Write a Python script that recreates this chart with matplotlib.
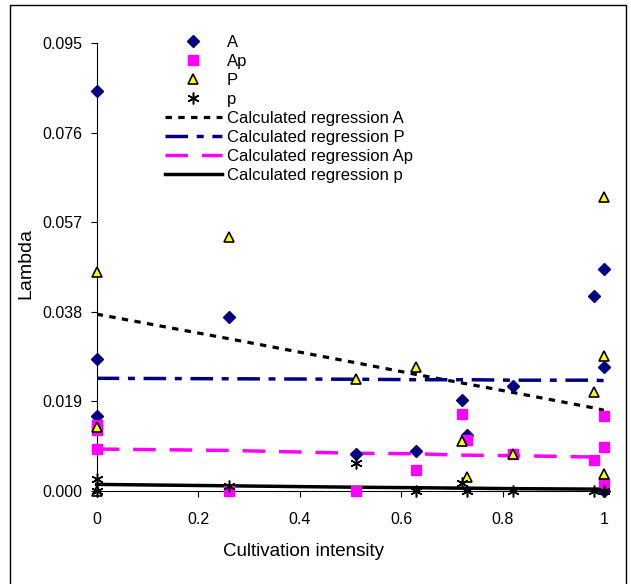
import matplotlib
matplotlib.use('Agg')
import matplotlib.pyplot as plt
from matplotlib.patches import Rectangle

plt.rcParams['font.family'] = ['Liberation Sans', 'DejaVu Sans']

# Observed lambda values per series
A_x = [0, 0, 0, 0.26, 0.51, 0.63, 0.72, 0.73, 0.82, 0.98, 1, 1, 1]
A_y = [0.0848, 0.0280, 0.0159, 0.0368, 0.0079, 0.0084, 0.0193, 0.0119,
       0.0223, 0.0414, 0.0471, 0.0262, 0.0000]

Ap_x = [0, 0, 0, 0.26, 0.51, 0.63, 0.72, 0.73, 0.82, 0.98, 1, 1, 1]
Ap_y = [0.0141, 0.0129, 0.0089, 0.0000, 0.0000, 0.0044, 0.0164, 0.0108,
        0.0079, 0.0065, 0.0159, 0.0094, 0.0018]

P_x = [0, 0, 0, 0.26, 0.51, 0.63, 0.72, 0.73, 0.82, 0.98, 1, 1, 1]
P_y = [0.0465, 0.0135, 0.0000, 0.0538, 0.0237, 0.0262, 0.0106, 0.0030,
       0.0079, 0.0209, 0.0623, 0.0287, 0.0035]

p_x = [0, 0, 0.26, 0.51, 0.63, 0.72, 0.73, 0.82, 0.98, 1, 1]
p_y = [0.0025, 0.0000, 0.0011, 0.0060, 0.0000, 0.0018, 0.0000, 0.0000,
       0.0000, 0.0000, 0.0000]

# Calculated regression values at the sampled intensities
reg_x = [0, 0.26, 0.51, 0.63, 0.72, 0.73, 0.82, 0.98, 1.0]
reg_A = [0.0375, 0.0323, 0.0272, 0.0247, 0.0229, 0.0227, 0.0209, 0.0176, 0.0171]
reg_P = [0.0239, 0.0238, 0.0237, 0.0236, 0.0236, 0.0236, 0.0235, 0.0235, 0.0234]
reg_Ap = [0.0089, 0.0086, 0.0080, 0.0079, 0.0076, 0.0076, 0.0075, 0.0072, 0.0072]
reg_p = [0.0014, 0.0011, 0.0008, 0.0007, 0.0006, 0.0006, 0.0005, 0.0004, 0.0004]

y_ticks = [0.000, 0.019, 0.038, 0.057, 0.076, 0.095]
x_ticks = [0, 0.2, 0.4, 0.6, 0.8, 1]
x_ticklabels = ['0', '0.2', '0.4', '0.6', '0.8', '1']

fig = plt.figure(figsize=(6.31, 5.84), dpi=100)
ax = fig.add_axes([96.7 / 631, 1 - 491 / 584, 507.6 / 631, 448 / 584])

navy = '#000080'
magenta = '#FF00FF'

# scatter points
h_A, = ax.plot(A_x, A_y, linestyle='none', marker='D', ms=6.5, color=navy,
               clip_on=False, zorder=3, label='A')
h_Ap, = ax.plot(Ap_x, Ap_y, linestyle='none', marker='s', ms=7.5, color=magenta,
                clip_on=False, zorder=3, label='Ap')
h_P, = ax.plot(P_x, P_y, linestyle='none', marker='^', ms=7.5, markerfacecolor='#FFFF00',
               markeredgecolor='black', markeredgewidth=1.2, clip_on=False, zorder=3, label='P')
h_p, = ax.plot(p_x, p_y, linestyle='none', marker=(6, 2, 0), ms=8.5, color='black',
               markeredgewidth=1.1, clip_on=False, zorder=3, label='p')

# regression lines
l_A, = ax.plot(reg_x, reg_A, color='black', lw=2.3, linestyle=(0, (2, 2)),
               zorder=2, label='Calculated regression A')
l_P, = ax.plot(reg_x, reg_P, color=navy, lw=2.5, linestyle=(0, (6.5, 2.5, 2, 2.5)),
               zorder=2, label='Calculated regression P')
l_Ap, = ax.plot(reg_x, reg_Ap, color=magenta, lw=2.5, linestyle=(0, (6.5, 4)),
                zorder=2, label='Calculated regression Ap')
l_p, = ax.plot(reg_x, reg_p, color='black', lw=2.5, zorder=2, clip_on=False,
               label='Calculated regression p')

ax.set_xlim(0, 1)
ax.set_ylim(0, 0.095)
ax.set_xticks(x_ticks)
ax.set_xticklabels(x_ticklabels)
ax.set_yticks(y_ticks)
ax.set_yticklabels([f'{v:.3f}' for v in y_ticks])
ax.spines['top'].set_visible(False)
ax.spines['right'].set_visible(False)
ax.spines['left'].set_linewidth(0.8)
ax.spines['bottom'].set_linewidth(0.8)
ax.tick_params(axis='both', direction='out', length=4, width=0.8, labelsize=11.5)
ax.tick_params(axis='x', pad=11)
ax.tick_params(axis='y', pad=6)

ax.set_xlabel('Cultivation intensity', fontsize=13.5)
ax.xaxis.set_label_coords(0.408, -0.136)
ax.xaxis.label.set_va('center')
ax.set_ylabel('Lambda', fontsize=14)
ax.yaxis.set_label_coords(-0.139, 0.507)
ax.yaxis.label.set_va('center')

fig.legend(handles=[h_A, h_Ap, h_P, h_p, l_A, l_P, l_Ap, l_p],
           loc='upper left', bbox_to_anchor=(165 / 631, 1 - 35 / 584),
           bbox_transform=fig.transFigure, frameon=False, fontsize=12,
           labelspacing=0.24, handlelength=3.4, handletextpad=0.3,
           borderpad=0, borderaxespad=0)

# outer chart border
fig.add_artist(Rectangle((10 / 631, -0.02), 616 / 631, 1.02 - 5 / 584,
                         transform=fig.transFigure, fill=False, lw=1.0,
                         edgecolor='black'))

plt.savefig('out.png', dpi=100)
plt.close()
